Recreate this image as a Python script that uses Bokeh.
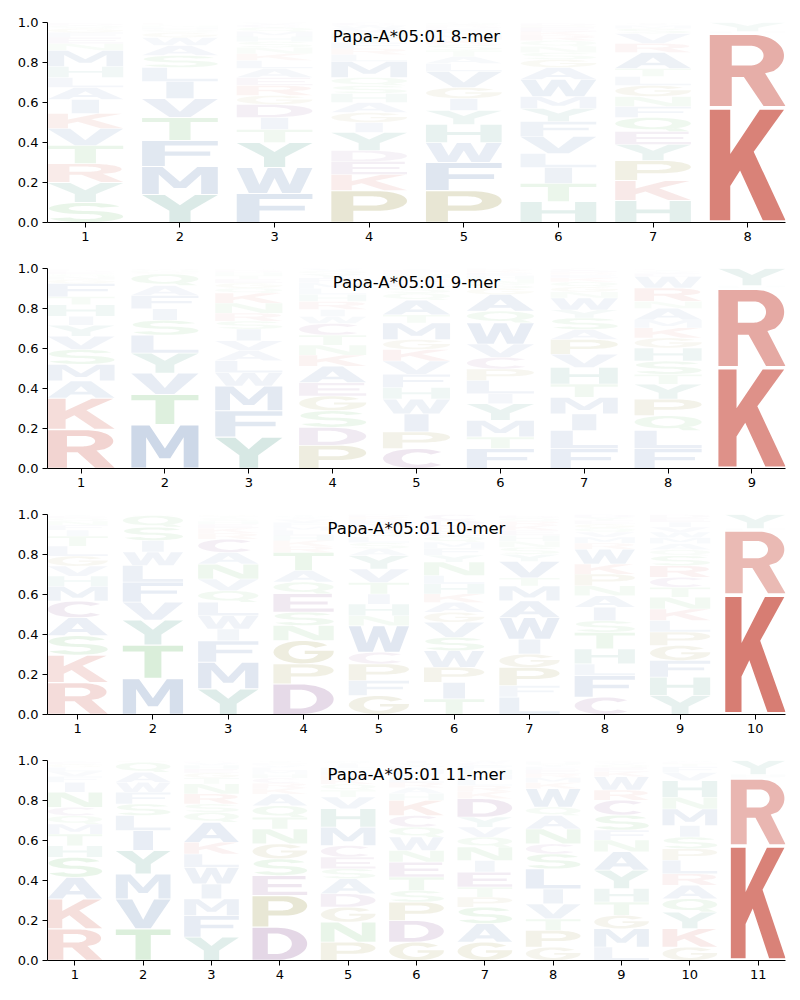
import numpy as np
from bokeh.plotting import figure
from bokeh.models import ColumnDataSource, Label, FixedTicker, Range1d, PrintfTickFormatter
from bokeh.layouts import column
from bokeh.embed import file_html
from bokeh.resources import INLINE

allele = "Papa-A*05:01"
lengths = [8, 9, 10, 11]

# ---- data: per position, letters from bottom to top and their heights ----
mer8_letters = ["SYRTVKIALHMNEFGQDP", "YMFTVILSAWGQHNCEK", "FWYTIDGREALKNSHMQCV",
                "PKEDYIGAHSQMLRFTNVWC", "PFWHYIGVLATSKMNEDRQ", "HTILVFYMWAGSNQRKEPDC",
                "HKPYEQFNGLTARVSMIW", "KRFHY"]
mer8_heights = [
    [.10, .10, .095, .09, .085, .075, .07, .06, .05, .055, .08, .035, .03, .025, .02, .015, .01, .005],
    [.14, .14, .13, .115, .095, .085, .07, .06, .05, .04, .025, .015, .012, .008, .005, .005, .005],
    [.145, .13, .125, .065, .06, .065, .045, .05, .04, .045, .04, .035, .03, .03, .025, .025, .02, .015, .01],
    [.16, .08, .065, .055, .09, .05, .05, .05, .045, .04, .04, .08, .035, .03, .03, .025, .025, .02, .015, .015],
    [.16, .14, .10, .09, .07, .06, .055, .08, .04, .035, .03, .03, .025, .02, .018, .015, .012, .01, .01],
    [.105, .09, .08, .07, .085, .075, .065, .06, .085, .06, .04, .035, .03, .03, .025, .02, .02, .01, .01, .005],
    [.11, .10, .10, .08, .065, .07, .055, .05, .055, .045, .04, .08, .045, .05, .025, .015, .01, .005],
    [.575, .37, .005, .005, .045],
]

mer9_letters = ["RKAMSVYIHTFGNQEDLP", "MTVYLSIFAQGNWH", "YFMWLAVISRNKQGETHDP",
                "PDSGEAKNTCWIRHLMFYQV", "CPIWHFVKGMTAQSLRNEDY", "FTMYILPCVWQAGSNHEKR",
                "FLIMTHVPASYWNGQKERDC", "FLQPYTSHGKMANRWEVIC", "KRFHY"]
mer9_heights = [
    [.195, .157, .086, .083, .074, .066, .055, .045, .058, .04, .066, .02, .015, .012, .01, .008, .006, .004],
    [.22, .15, .107, .10, .09, .074, .058, .066, .05, .058, .01, .007, .005, .005],
    [.157, .132, .124, .066, .06, .05, .05, .058, .04, .04, .05, .05, .025, .025, .02, .018, .015, .012, .008],
    [.116, .09, .083, .074, .066, .083, .055, .05, .05, .058, .035, .035, .04, .035, .03, .028, .025, .02, .015, .012],
    [.10, .083, .09, .074, .058, .066, .066, .058, .05, .083, .04, .074, .035, .03, .025, .02, .018, .012, .01, .008],
    [.10, .058, .083, .083, .05, .066, .058, .058, .066, .107, .058, .083, .03, .025, .02, .018, .015, .012, .01],
    [.10, .09, .083, .083, .066, .083, .066, .074, .05, .058, .04, .06, .03, .025, .025, .02, .015, .012, .01, .01],
    [.10, .09, .074, .083, .074, .05, .066, .066, .05, .05, .04, .058, .035, .066, .058, .015, .01, .008, .007],
    [.505, .395, .008, .007, .085],
]

mer10_letters = ["RKSACMHVGLTIFNQEY", "MTYVFLWISQA", "YMFIWLQVNACRKEHSTG",
                 "DPGNSEQATRKHLMFVIWY", "GFPCWNHITVYASLQKMERD", "TIPWSVGAKHLNYFMQERDC",
                 "LFPGIWAMTVYSNHEKRQDC", "CFLHTSIANPKWRMVQGEYD", "YHFGPLKNTCRSQAMWVIED", "KRFHY"]
mer10_heights = [
    [.16, .137, .097, .09, .083, .075, .05, .05, .05, .05, .05, .03, .025, .02, .015, .01, .008],
    [.18, .167, .125, .09, .10, .083, .067, .058, .067, .058, .005],
    [.128, .133, .108, .058, .067, .067, .058, .058, .075, .058, .067, .03, .025, .02, .015, .015, .01, .008],
    [.153, .10, .117, .075, .067, .092, .058, .058, .09, .03, .03, .025, .025, .02, .02, .015, .01, .008, .007],
    [.095, .075, .083, .058, .133, .05, .058, .05, .058, .067, .067, .035, .03, .03, .025, .025, .02, .015, .015, .011],
    [.078, .083, .075, .083, .067, .075, .05, .05, .042, .05, .042, .067, .035, .035, .03, .03, .025, .025, .03, .028],
    [.087, .058, .09, .067, .075, .108, .083, .075, .04, .083, .035, .035, .03, .03, .025, .025, .02, .015, .012, .007],
    [.087, .108, .058, .075, .083, .058, .067, .058, .05, .058, .05, .075, .03, .03, .025, .02, .02, .018, .015, .015],
    [.095, .092, .083, .075, .067, .058, .058, .058, .05, .05, .058, .05, .03, .03, .03, .028, .025, .025, .02, .018],
    [.60, .32, .005, .005, .07],
]

mer11_letters = ["RKASHTMQCNIFVLGEY", "TVMYILSFWAQG", "YFMIWLKAQSRNTGEHVDC",
                 "DPESGNTQAKRCHMLVFYI", "PNGDASECMHVTQKRLFIYW", "GDPSTENWQCKHARLVMFYI",
                 "GASPTEINQVYDKRLMHFCW", "GPTVILSCNAQWKMREFYHD", "LMGTHYANFSCRWKEQVIP",
                 "GKYQARLPSIMNHVFTEW", "KRFHY"]
mer11_heights = [
    [.158, .15, .108, .10, .058, .058, .05, .042, .042, .075, .05, .03, .025, .02, .015, .01, .009],
    [.158, .15, .125, .117, .10, .075, .058, .058, .05, .05, .05, .009],
    [.117, .108, .083, .075, .083, .067, .058, .10, .05, .042, .05, .05, .03, .025, .02, .018, .012, .007, .005],
    [.167, .158, .10, .083, .075, .075, .058, .058, .058, .03, .025, .025, .02, .018, .015, .012, .01, .008, .005],
    [.092, .10, .075, .067, .075, .05, .058, .058, .092, .092, .058, .035, .03, .025, .02, .02, .018, .015, .012, .008],
    [.092, .108, .092, .058, .067, .075, .058, .067, .05, .058, .075, .035, .03, .025, .025, .02, .02, .015, .015, .015],
    [.092, .092, .083, .05, .05, .075, .058, .067, .05, .05, .05, .092, .035, .03, .03, .025, .025, .02, .015, .011],
    [.067, .083, .058, .075, .075, .10, .075, .05, .075, .067, .042, .092, .03, .025, .02, .02, .015, .012, .01, .009],
    [.067, .092, .067, .067, .067, .092, .092, .058, .05, .075, .075, .05, .067, .025, .02, .015, .01, .006, .005],
    [.067, .092, .083, .067, .067, .058, .067, .058, .058, .058, .083, .058, .083, .04, .03, .015, .009, .007],
    [.575, .335, .01, .01, .07],
]

panels = [(mer8_letters, mer8_heights), (mer9_letters, mer9_heights),
          (mer10_letters, mer10_heights), (mer11_letters, mer11_heights)]

# ---- colours by residue class ----
RED, BLUE, TEAL, GREEN, OLIVE, PURPLE = "#d36e63", "#6789b9", "#559e8d", "#6cbc6c", "#9f974c", "#925e9b"
COLORS = {}
for aa in "KR": COLORS[aa] = RED
for aa in "AFILMVW": COLORS[aa] = BLUE
for aa in "YH": COLORS[aa] = TEAL
for aa in "STNQ": COLORS[aa] = GREEN
for aa in "PG": COLORS[aa] = OLIVE
for aa in "DEC": COLORS[aa] = PURPLE


# ---- letter outlines in a unit box ----
def ell(cx, cy, rx, ry, a0, a1, n=28):
    t = np.radians(np.linspace(a0, a1, n))
    return [(cx + rx * np.cos(a), cy + ry * np.sin(a)) for a in t]


GLYPHS = {
    "A": [[[(0, 0), (0.28, 0), (0.345, 0.19), (0.655, 0.19), (0.72, 0), (1, 0), (0.65, 1), (0.35, 1)],
           [(0.6, 0.36), (0.5, 0.7), (0.4, 0.36)]]],
    "C": [[ell(0.5, 0.5, 0.5, 0.5, 42, 318) + ell(0.53, 0.5, 0.25, 0.32, 318, 42)]],
    "D": [[[(0, 0)] + ell(0.45, 0.5, 0.55, 0.5, -90, 90) + [(0, 1)],
           ([(0.28, 0.18)] + ell(0.43, 0.5, 0.29, 0.32, -90, 90) + [(0.28, 0.82)])[::-1]]],
    "E": [[[(0, 0), (1, 0), (1, 0.18), (0.28, 0.18), (0.28, 0.41), (0.9, 0.41), (0.9, 0.58), (0.28, 0.58),
            (0.28, 0.82), (0.97, 0.82), (0.97, 1), (0, 1)]]],
    "F": [[[(0, 0), (0.3, 0), (0.3, 0.41), (0.9, 0.41), (0.9, 0.58), (0.3, 0.58), (0.3, 0.82), (1, 0.82),
            (1, 1), (0, 1)]]],
    "G": [[ell(0.5, 0.5, 0.5, 0.5, 38, 360) + [(1, 0.56), (0.52, 0.56), (0.52, 0.42), (0.745, 0.42)]
           + ell(0.5, 0.5, 0.25, 0.32, 345, 38)]],
    "H": [[[(0, 0), (0.28, 0), (0.28, 0.42), (0.72, 0.42), (0.72, 0), (1, 0), (1, 1), (0.72, 1), (0.72, 0.59),
            (0.28, 0.59), (0.28, 1), (0, 1)]]],
    "I": [[[(0.32, 0), (0.68, 0), (0.68, 1), (0.32, 1)]]],
    "K": [[[(0, 0), (0.27, 0), (0.27, 0.31), (0.4, 0.45), (0.7, 0), (1, 0), (0.58, 0.62), (0.98, 1), (0.66, 1),
            (0.27, 0.6), (0.27, 1), (0, 1)]]],
    "L": [[[(0, 0), (1, 0), (1, 0.18), (0.33, 0.18), (0.33, 1), (0, 1)]]],
    "M": [[[(0, 0), (0.22, 0), (0.22, 0.72), (0.42, 0.22), (0.58, 0.22), (0.78, 0.72), (0.78, 0), (1, 0),
            (1, 1), (0.73, 1), (0.5, 0.45), (0.27, 1), (0, 1)]]],
    "N": [[[(0, 0), (0.25, 0), (0.25, 0.68), (0.68, 0), (1, 0), (1, 1), (0.75, 1), (0.75, 0.32), (0.32, 1),
            (0, 1)]]],
    "P": [[[(0, 0), (0.29, 0), (0.29, 0.36)] + ell(0.6, 0.68, 0.4, 0.32, -90, 90) + [(0, 1)],
           ([(0.29, 0.53)] + ell(0.55, 0.68, 0.19, 0.15, -90, 90) + [(0.29, 0.83)])[::-1]]],
    "Q": [[ell(0.5, 0.57, 0.5, 0.43, 0, 360, 48), ell(0.5, 0.57, 0.25, 0.27, 360, 0, 48)],
          [[(0.72, 0), (0.98, 0)] + ell(0.5, 0.57, 0.5, 0.43, -50, -72, 8)]],
    "R": [[[(0, 0), (0.29, 0), (0.29, 0.41), (0.45, 0.41), (0.71, 0), (1, 0), (0.73, 0.46)]
           + ell(0.57, 0.71, 0.41, 0.29, -48, 90) + [(0, 1)],
           ([(0.29, 0.57)] + ell(0.53, 0.71, 0.18, 0.14, -90, 90) + [(0.29, 0.85)])[::-1]]],
    "S": [[ell(0.5, 0.71, 0.48, 0.29, 20, 270) + ell(0.5, 0.29, 0.22, 0.13, 90, -160)
           + ell(0.5, 0.29, 0.5, 0.29, -160, 90) + ell(0.5, 0.71, 0.22, 0.13, 270, 20)]],
    "T": [[[(0, 0.82), (0.36, 0.82), (0.36, 0), (0.64, 0), (0.64, 0.82), (1, 0.82), (1, 1), (0, 1)]]],
    "V": [[[(0, 1), (0.36, 0), (0.64, 0), (1, 1), (0.7, 1), (0.5, 0.3), (0.3, 1)]]],
    "W": [[[(0, 1), (0.16, 0), (0.4, 0), (0.5, 0.6), (0.6, 0), (0.84, 0), (1, 1), (0.8, 1), (0.7, 0.33),
            (0.59, 1), (0.41, 1), (0.3, 0.33), (0.2, 1)]]],
    "Y": [[[(0, 1), (0.36, 0.42), (0.36, 0), (0.64, 0), (0.64, 0.42), (1, 1), (0.7, 1), (0.5, 0.62),
            (0.3, 1)]]],
}

LETTER_W = 0.8
VPAD = 0.04


def build_source(letters, heights):
    xs, ys, cols, alphas = [], [], [], []
    for pos, (lets, hts) in enumerate(zip(letters, heights), start=1):
        y0 = 0.0
        for aa, h in zip(lets, hts):
            bx = pos - LETTER_W / 2
            by = y0 + h * VPAD / 2
            bh = h * (1 - VPAD)
            pxs, pys = [], []
            for poly in GLYPHS[aa]:
                rx, ry = [], []
                for ring in poly:
                    arr = np.array(ring, dtype=float)
                    rx.append(bx + LETTER_W * arr[:, 0])
                    ry.append(by + bh * arr[:, 1])
                pxs.append(rx)
                pys.append(ry)
            xs.append(pxs)
            ys.append(pys)
            cols.append(COLORS[aa])
            alphas.append(min(1.0, 1.5 * h))
            y0 += h
    return ColumnDataSource(dict(xs=xs, ys=ys, color=cols, alpha=alphas))


figs = []
for n, (letters, heights) in zip(lengths, panels):
    p = figure(width=800, height=246, x_range=Range1d(0.6, n + 0.4), y_range=Range1d(0, 1),
               output_backend="svg", toolbar_location=None,
               min_border_left=47, min_border_right=15, min_border_top=22, min_border_bottom=24)
    p.xgrid.visible = False
    p.ygrid.visible = False
    p.outline_line_color = None
    p.background_fill_color = "white"
    p.border_fill_color = "white"
    src = build_source(letters, heights)
    p.multi_polygons(xs="xs", ys="ys", fill_color="color", fill_alpha="alpha", line_color=None, source=src)
    p.xaxis.ticker = FixedTicker(ticks=list(range(1, n + 1)))
    p.yaxis.ticker = FixedTicker(ticks=[0.0, 0.2, 0.4, 0.6, 0.8, 1.0])
    p.yaxis.formatter = PrintfTickFormatter(format="%.1f")
    for ax in (p.xaxis[0], p.yaxis[0]):
        ax.major_tick_in = 0
        ax.major_tick_out = 5
        ax.minor_tick_line_color = None
        ax.axis_line_color = "black"
        ax.axis_line_width = 1
        ax.major_tick_line_color = "black"
        ax.major_label_text_font = "DejaVu Sans"
        ax.major_label_text_font_size = "13px"
        ax.major_label_text_color = "black"
        ax.major_label_standoff = 4
    p.add_layout(Label(x=(n + 1) / 2, y=0.93, text=f"{allele} {n}-mer", text_align="center",
                       text_baseline="middle", text_font="DejaVu Sans", text_font_size="16.5px",
                       text_color="black"))
    figs.append(p)

layout = column(*figs)
open("out.html", "w").write(file_html(layout, INLINE))
